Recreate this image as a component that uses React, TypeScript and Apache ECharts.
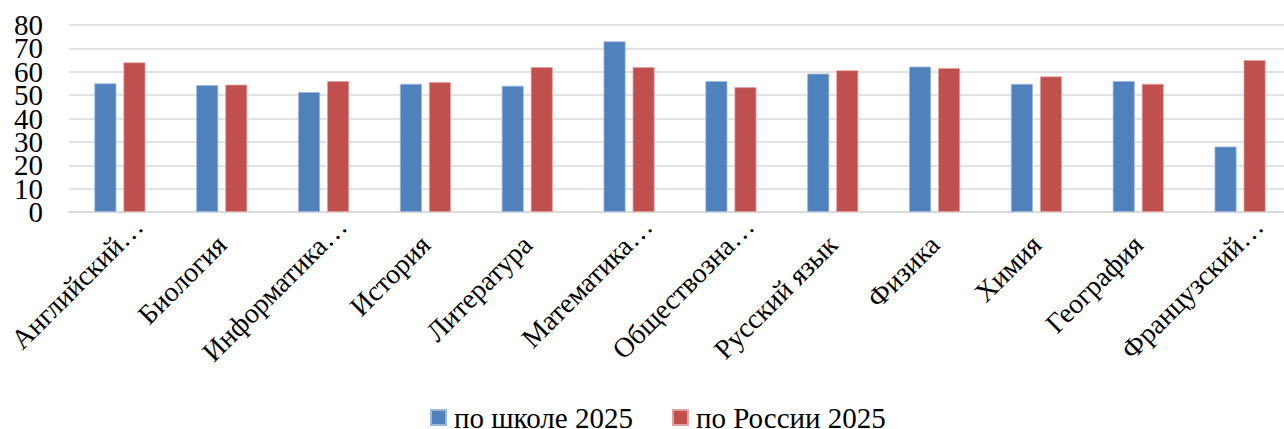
import React, { useEffect, useRef } from "react";
import * as echarts from "echarts";

const categories = [
  "Английский…",
  "Биология",
  "Информатика…",
  "История",
  "Литература",
  "Математика…",
  "Обществозна…",
  "Русский язык",
  "Физика",
  "Химия",
  "География",
  "Французский…",
];
const schoolName = "по школе 2025";
const russiaName = "по России 2025";
const schoolValues = [55, 54.3, 51.3, 54.8, 54, 73, 56, 59.2, 62.2, 54.8, 56, 28];
const russiaValues = [64, 54.5, 56, 55.6, 62, 62, 53.4, 60.6, 61.6, 58, 54.8, 65];
const yMin = 0;
const yMax = 80;
const yInterval = 10;
const yTickLabels = ["0", "10", "20", "30", "40", "50", "60", "70", "80"];

const FONT = "Liberation Serif";

export default function App() {
  const ref = useRef<HTMLDivElement>(null);
  useEffect(() => {
    if (!ref.current) return;
    const chart = echarts.init(ref.current, undefined, { renderer: "svg" });
    const xData = categories.map((c) =>
      c.endsWith("…") ? { value: c, textStyle: { padding: [0, -26, 0, 0] } } : c
    );
    chart.setOption({
      animation: false,
      backgroundColor: "#ffffff",
      textStyle: { fontFamily: FONT },
      grid: {
        left: 69,
        top: 25,
        width: 1222,
        height: 187,
        containLabel: false,
        outerBoundsMode: "none",
      },
      legend: {
        left: 430,
        top: 403,
        padding: 0,
        icon: "rect",
        itemWidth: 15,
        itemHeight: 15,
        itemGap: 39,
        textStyle: {
          fontFamily: FONT,
          fontSize: 29,
          color: "#000",
          padding: [0, 0, 0, 3],
        },
        data: [schoolName, russiaName],
      },
      xAxis: {
        type: "category",
        data: xData,
        axisLine: { show: true, lineStyle: { color: "#d9d9d9", width: 1.5 } },
        axisTick: { show: false },
        axisLabel: {
          interval: 0,
          rotate: 45,
          margin: 28,
          fontFamily: FONT,
          fontSize: 28,
          color: "#000",
        },
      },
      yAxis: [
        {
          type: "value",
          min: yMin,
          max: yMax,
          interval: yInterval,
          axisLine: { show: false },
          axisTick: { show: false },
          splitLine: { show: true, lineStyle: { color: "#d9d9d9", width: 1.5 } },
          axisLabel: { show: false },
        },
        {
          type: "category",
          data: yTickLabels,
          boundaryGap: false,
          position: "left",
          axisLine: { show: false },
          axisTick: { show: false },
          splitLine: { show: false },
          axisLabel: {
            interval: 0,
            margin: 26,
            fontFamily: FONT,
            fontSize: 29,
            lineHeight: 22,
            color: "#000",
          },
        },
      ],
      series: [
        {
          name: schoolName,
          type: "bar",
          data: schoolValues,
          yAxisIndex: 0,
          barWidth: 22,
          barGap: "32%",
          itemStyle: { color: "#4F81BD", borderColor: "#9DB8DC", borderWidth: 0.8 },
        },
        {
          name: russiaName,
          type: "bar",
          data: russiaValues,
          yAxisIndex: 0,
          barWidth: 22,
          itemStyle: { color: "#C0504D", borderColor: "#E0A3A1", borderWidth: 0.8 },
        },
      ],
    });
    return () => chart.dispose();
  }, []);
  return (
    <div
      ref={ref}
      style={{ position: "absolute", left: 0, top: 0, width: 1284, height: 429 }}
    />
  );
}
